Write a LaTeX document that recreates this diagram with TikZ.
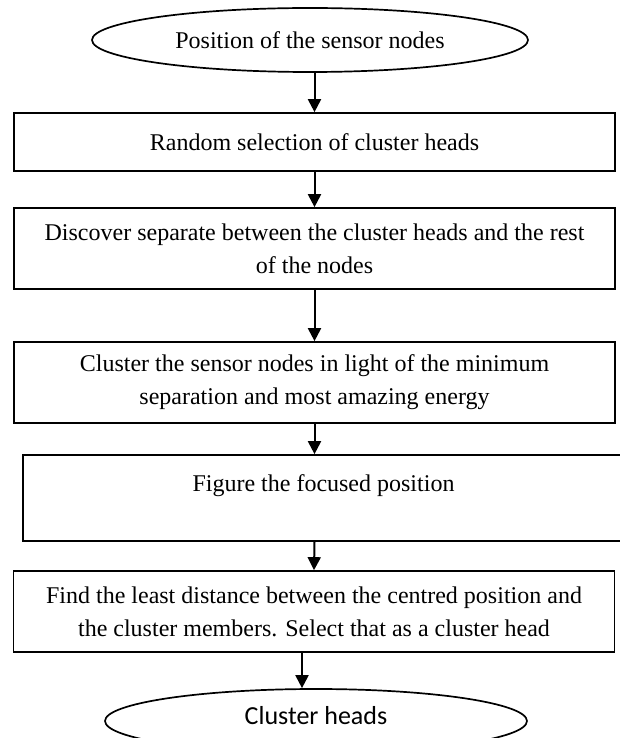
\documentclass[tikz,border=0pt]{standalone}
\usepackage{fontspec}
\setmainfont{Liberation Serif}
\newfontfamily\calibrifont{Carlito}
\usetikzlibrary{shapes.geometric,arrows.meta}
\begin{document}
\begin{tikzpicture}[x=1pt,y=-1pt,
  stepbox/.style={draw,line width=1.7pt,rectangle,inner sep=0pt,minimum width=601pt,align=center,font=\fontsize{24}{33}\selectfont},
  oval/.style={draw,line width=1.7pt,ellipse,inner sep=0pt,align=center},
  arr/.style={line width=2pt,-{Triangle[length=13pt,width=13pt]}}]
\useasboundingbox (0,0) rectangle (620,738);
\clip (0,0) rectangle (620,738);
\node[oval,minimum width=436pt,minimum height=64pt,font=\fontsize{24}{33}\selectfont] (e1) at (310,40) {Position of the sensor nodes};
\node[stepbox,minimum height=58pt] (b1) at (314.5,142) {Random selection of cluster heads};
\node[stepbox,minimum height=81pt] (b2) at (314.5,248.5) {Discover separate between the cluster heads and the rest\\of the nodes};
\node[stepbox,minimum height=81pt] (b3) at (314.5,382.5) {Cluster the sensor nodes in light of the minimum\\separation and most amazing energy};
\node[stepbox,minimum height=86pt] (b4) at (323.5,498) {Figure the focused position\\[-4pt]\mbox{}};
\node[stepbox,minimum height=81pt] (b5) at (314,611.5) {Find the least distance between the centred position and\\the cluster members. Select that as a cluster head};
\node[oval,minimum width=422pt,minimum height=64pt,font=\calibrifont\fontsize{26}{30}\selectfont,text height=18pt,text depth=12pt] (e2) at (316,721) {Cluster heads};
\draw[arr] (e1.south -| b1.north) -- (b1.north);
\draw[arr] (b1.south) -- (b2.north);
\draw[arr] (b2.south) -- (b3.north);
\draw[arr] (b3.south) -- (b3.south |- b4.north);
\draw[arr] (b3.south |- b4.south) -- (b5.north);
\coordinate (a6) at ([xshift=-12pt]b5.south);
\draw[arr] (a6) -- (a6 |- e2.north);
\end{tikzpicture}
\end{document}
